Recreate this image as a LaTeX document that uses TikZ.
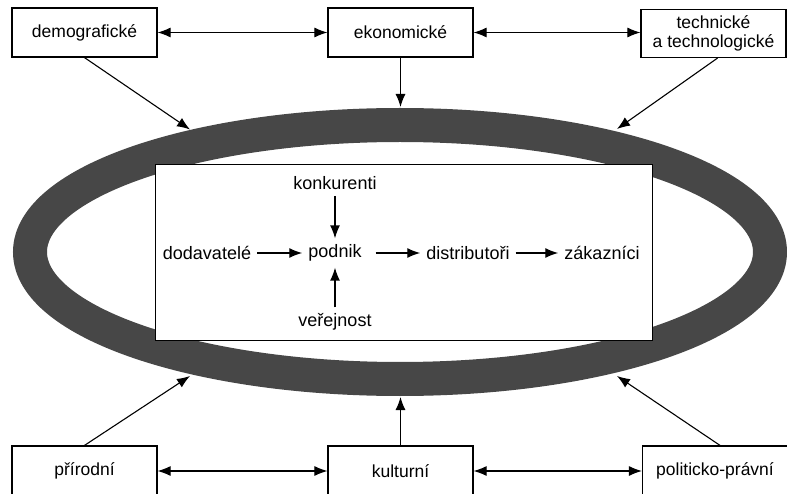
\documentclass[tikz,border=0pt]{standalone}
\usepackage{fontspec}
\setmainfont{Liberation Sans}
\usetikzlibrary{arrows.meta}
\begin{document}
\begin{tikzpicture}[x=1pt,y=-1pt,
  envbox/.style={draw,line width=1.2pt,fill=white,minimum width=145pt,minimum height=49pt,inner sep=0pt,font=\fontsize{17.5}{19}\selectfont,align=center},
  lbl/.style={inner sep=6pt,font=\fontsize{18}{19}\selectfont},
  arr/.style={line width=1.1pt,-{Latex[length=13pt,width=10pt]}},
  iarr/.style={line width=1.4pt,-{Latex[length=13pt,width=10pt]}},
  darr/.style={line width=1.1pt,{Latex[length=13pt,width=10pt]}-{Latex[length=13pt,width=10pt]}},
  ring/.style={draw=black!72,line width=34pt}]
\useasboundingbox (0,0) rectangle (787,494);
% ring
\draw[ring] (400,252) ellipse [x radius=370, y radius=127];
% inner firm box
\node[draw,line width=1pt,fill=white,minimum width=497pt,minimum height=175pt] (firm) at (403.5,252.5) {};
% outer boxes
\node[envbox] (demo) at (84.5,32.5) {demografické};
\node[envbox] (eko) at (400.5,32.5) {ekonomické};
\node[envbox,minimum height=48pt] (tech) at (713.5,33.5) {technické\\a technologické};
\node[envbox,minimum height=50pt] (prir) at (84.5,471) {přírodní};
\node[envbox,minimum height=50pt] (kult) at (400.5,471) {kulturní};
\node[envbox,minimum height=50pt] (pol) at (715,471) {politicko-právní};
% ring contact points
\coordinate (eTL) at (190,129.5);
\coordinate (eT) at (400.5,107);
\coordinate (eTR) at (617,129);
\coordinate (eBL) at (190,376);
\coordinate (eB) at (400.5,397);
\coordinate (eBR) at (617,376);
% connectors outer
\draw[darr] (demo) -- (eko);
\draw[darr] (eko) -- (tech.west |- eko);
\draw[darr] (prir) -- (kult);
\draw[darr] (kult) -- (pol);
\draw[arr] (eko) -- (eT);
\draw[arr] (kult) -- (eB);
\draw[arr] (demo.south) -- (eTL);
\draw[arr] ([xshift=4pt]tech.south) -- (eTR);
\draw[arr] (prir.north) -- (eBL);
\draw[arr] ([xshift=5pt]pol.north) -- (eBR);
% inner labels
\node[lbl] (konk) at (335,183) {konkurenti};
\node[lbl] (dod) at (207,253) {dodavatelé};
\node[lbl] (pod) at (335,253) {podnik};
\node[lbl] (dist) at (468,253) {distributoři};
\node[lbl] (zak) at (602,253) {zákazníci};
\node[lbl] (ver) at (335,322) {veřejnost};
\draw[iarr] (dod) -- (pod);
\draw[iarr,shorten <=8pt] (pod) -- (dist);
\draw[iarr] (dist) -- (zak);
\draw[iarr] (konk) -- (pod);
\draw[iarr] (ver) -- (pod);
\end{tikzpicture}
\end{document}
